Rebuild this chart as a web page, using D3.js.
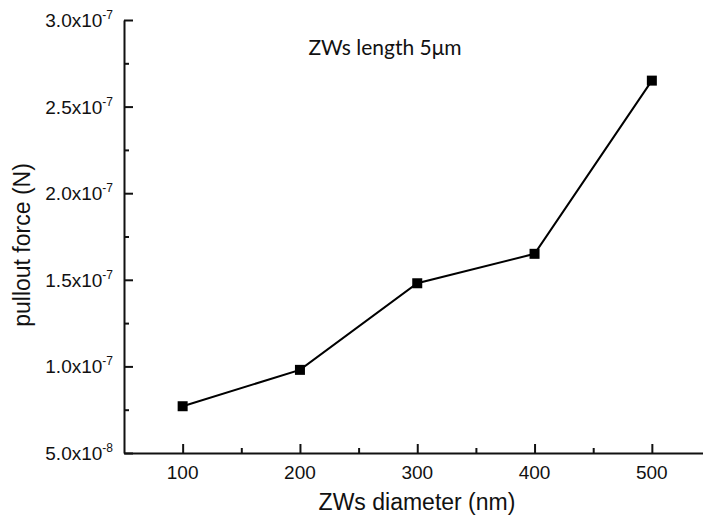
<!DOCTYPE html>
<html>
<head>
<meta charset="utf-8">
<script src="https://cdn.jsdelivr.net/npm/d3@7"></script>
<style>
  body { margin: 0; background: #fff; }
  text { font-family: "Liberation Sans", Arial, sans-serif; fill: #111; }
</style>
</head>
<body>
<svg id="chart" width="703" height="517"></svg>
<script>
// data
const diameters = [100, 200, 300, 400, 500];
const forces = [7.7e-8, 9.8e-8, 1.48e-7, 1.65e-7, 2.65e-7];
const xTicks = [100, 200, 300, 400, 500];
const xMinor = [150, 250, 350, 450];
const yTicks = [5e-8, 1e-7, 1.5e-7, 2e-7, 2.5e-7, 3e-7];
const yMinor = [7.5e-8, 1.25e-7, 1.75e-7, 2.25e-7, 2.75e-7];
const yTickLabels = [["5.0x10", "-8"], ["1.0x10", "-7"], ["1.5x10", "-7"], ["2.0x10", "-7"], ["2.5x10", "-7"], ["3.0x10", "-7"]];

const svg = d3.select('#chart');
const x = d3.scaleLinear().domain([50, 550]).range([124, 710.5]);
const y = d3.scaleLinear().domain([5e-8, 3e-7]).range([453, 20]);

// y axis, ticks pointing inward
svg.append('g').attr('transform', 'translate(124,0)')
  .call(d3.axisLeft(y).tickValues(yTicks).tickSize(-9).tickSizeOuter(0).tickFormat(''));
svg.append('g').attr('transform', 'translate(124,0)')
  .call(d3.axisLeft(y).tickValues(yMinor).tickSize(-5).tickSizeOuter(0).tickFormat(''))
  .select('.domain').remove();

// x axis
svg.append('g').attr('transform', 'translate(0,453)')
  .call(d3.axisBottom(x).tickValues(xTicks).tickSize(-9).tickSizeOuter(0).tickFormat(''));
svg.append('g').attr('transform', 'translate(0,453)')
  .call(d3.axisBottom(x).tickValues(xMinor).tickSize(-5).tickSizeOuter(0).tickFormat(''))
  .select('.domain').remove();

svg.selectAll('.domain, .tick line').attr('stroke', '#111').attr('stroke-width', 2);

// tick labels
yTicks.forEach(function(v, i) {
  let t = svg.append('text').attr('x', 113).attr('y', y(v) + 7)
    .attr('text-anchor', 'end').style('font-size', '19px');
  t.append('tspan').text(yTickLabels[i][0]);
  t.append('tspan').attr('dy', -8).style('font-size', '12px').text(yTickLabels[i][1]);
});
xTicks.forEach(function(v) {
  svg.append('text').attr('x', x(v)).attr('y', 479)
    .attr('text-anchor', 'middle').style('font-size', '19px').text(v);
});

// titles
svg.append('text').attr('x', 417).attr('y', 510).attr('text-anchor', 'middle')
  .style('font-size', '23px').text('ZWs diameter (nm)');
svg.append('text').attr('transform', 'translate(30,245) rotate(-90)')
  .attr('text-anchor', 'middle').style('font-size', '23px').text('pullout force (N)');
svg.append('text').attr('x', 385).attr('y', 55).attr('text-anchor', 'middle')
  .style('font-family', 'Lato, "Open Sans", sans-serif').style('font-size', '21px')
  .text('ZWs length 5\u03bcm');

// line + square markers
const line = d3.line().x(function(d, i) { return x(diameters[i]); }).y(function(d) { return y(d); });
svg.append('path').datum(forces).attr('d', line)
  .attr('fill', 'none').attr('stroke', '#000').attr('stroke-width', 2);
svg.selectAll('rect.pt').data(forces).enter().append('rect')
  .attr('class', 'pt')
  .attr('x', function(d, i) { return x(diameters[i]) - 5; })
  .attr('y', function(d) { return y(d) - 5; })
  .attr('width', 10).attr('height', 10)
  .attr('fill', '#000');
</script>
</body>
</html>
